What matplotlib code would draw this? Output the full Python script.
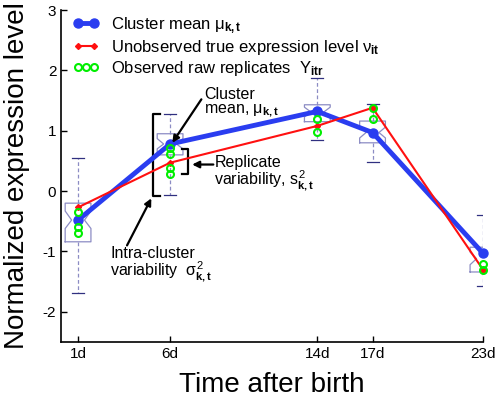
import numpy as np
import matplotlib
matplotlib.use("Agg")
import matplotlib.pyplot as plt
from matplotlib.legend_handler import HandlerLine2D

plt.rcParams["font.family"] = ["Liberation Sans", "DejaVu Sans"]
plt.rcParams["mathtext.fontset"] = "custom"
plt.rcParams["mathtext.rm"] = "Liberation Sans"
plt.rcParams["mathtext.it"] = "Liberation Sans"
plt.rcParams["mathtext.bf"] = "Liberation Sans:bold"

# -----------------------------
# Data
# -----------------------------
days = [1, 6, 14, 17, 23]
day_labels = ["1d", "6d", "14d", "17d", "23d"]

cluster_mean = [-0.48, 0.78, 1.32, 0.97, -1.03]
true_level = [-0.27, 0.47, 1.08, 1.38, -1.30]

rep_days = [1, 1, 1, 6, 6, 6, 6, 14, 14, 17, 17, 23, 23]
rep_values = [-0.34, -0.60, -0.69, 0.71, 0.61, 0.39, 0.29,
              1.19, 0.98, 1.37, 1.19, -1.20, -1.30]

box_q1 = [-0.84, 0.60, 1.15, 0.80, -1.34]
box_q3 = [-0.20, 0.95, 1.43, 1.16, -0.93]
box_med = [-0.48, 0.78, 1.31, 0.97, -1.12]
box_cilo = [-0.62, 0.70, 1.23, 0.88, -1.22]
box_cihi = [-0.33, 0.87, 1.39, 1.06, -1.01]
whisk_lo = [-1.68, -0.07, 0.84, 0.49, -1.57]
whisk_hi = [0.54, 1.28, 1.88, 1.44, -0.39]

# -----------------------------
# Figure
# -----------------------------
fig = plt.figure(figsize=(5.01, 4.0), dpi=100)
ax = fig.add_axes([0.122, 0.145, 0.842, 0.83])

box_col = "#8c8cc4"
stats = []
for i in range(len(days)):
    stats.append(dict(med=box_med[i], q1=box_q1[i], q3=box_q3[i],
                      cilo=box_cilo[i], cihi=box_cihi[i],
                      whislo=whisk_lo[i], whishi=whisk_hi[i], fliers=[]))
ax.bxp(stats, positions=days, widths=1.4, capwidths=0.65, shownotches=True,
       showfliers=False, manage_ticks=False,
       boxprops=dict(color=box_col, linewidth=0.9),
       whiskerprops=dict(color=box_col, linestyle=(0, (3, 2)), linewidth=0.9),
       capprops=dict(color="#303080", linewidth=0.9),
       medianprops=dict(linewidth=0))

red_line, = ax.plot(days, true_level, color="#ff1010", linewidth=1.5, marker="D",
                    markersize=3,
                    label=r"Unobserved true expression level $\nu_{\mathbf{it}}$",
                    zorder=4, clip_on=False)
blue_line, = ax.plot(days, cluster_mean, color="#2a3df0", linewidth=3.5, marker="o",
                     markersize=6.5, label=r"Cluster mean $\mu_{\mathbf{k,t}}$",
                     zorder=3, clip_on=False)
green_pts, = ax.plot(rep_days, rep_values, linestyle="none", marker="o", markersize=5,
                     markerfacecolor="none", markeredgecolor="#00ee00",
                     markeredgewidth=1.5,
                     label=r"Observed raw replicates  $Y_{\mathbf{itr}}$", zorder=5,
                     clip_on=False)

ax.legend([blue_line, red_line, green_pts],
          [blue_line.get_label(), red_line.get_label(), green_pts.get_label()],
          handler_map={blue_line: HandlerLine2D(numpoints=2),
                       red_line: HandlerLine2D(numpoints=2),
                       green_pts: HandlerLine2D(numpoints=3)},
          loc="upper left", bbox_to_anchor=(0.0, 1.02), frameon=False,
          fontsize=12, handlelength=1.6, handletextpad=0.7,
          labelspacing=0.12, borderaxespad=0.3)

# -----------------------------
# Annotations
# -----------------------------
ann = dict(fontsize=11.5)
ax.text(7.85, 1.46, "Cluster\n" + r"mean, $\mu_{\mathbf{k,t}}$",
        ha="left", va="center", linespacing=0.95, **ann)
ax.annotate("", xy=(6.12, 0.80), xytext=(7.7, 1.52),
            arrowprops=dict(arrowstyle="-|>", color="black", lw=1.6,
                            mutation_scale=10, shrinkA=0, shrinkB=0))

ax.text(8.4, 0.28, "Replicate\n" + r"variability, $s^2_{\mathbf{k,t}}$",
        ha="left", va="center", linespacing=0.95, **ann)
ax.annotate("", xy=(7.2, 0.44), xytext=(8.35, 0.44),
            arrowprops=dict(arrowstyle="-|>", color="black", lw=1.6,
                            mutation_scale=10, shrinkA=0, shrinkB=0))
# replicate bracket
ax.plot([6.65, 6.98, 6.98, 6.65], [0.70, 0.70, 0.29, 0.29],
        color="black", linewidth=1.6)

# intra-cluster bracket
ax.plot([5.45, 5.08, 5.08, 5.45], [1.27, 1.27, -0.08, -0.08],
        color="black", linewidth=1.6)
ax.text(2.74, -1.22, "Intra-cluster\n" + r"variability  $\sigma^2_{\mathbf{k,t}}$",
        ha="left", va="center", linespacing=0.95, **ann)
ax.annotate("", xy=(4.98, -0.12), xytext=(3.66, -0.9),
            arrowprops=dict(arrowstyle="-|>", color="black", lw=1.6,
                            mutation_scale=10, shrinkA=0, shrinkB=0))

# -----------------------------
# Axes styling
# -----------------------------
ax.set_xlim(0.08, 23.0)
ax.set_ylim(-2.5, 3)
ax.set_xticks(days)
ax.set_xticklabels(day_labels, fontsize=11)
ax.set_yticks([-2, -1, 0, 1, 2, 3])
ax.set_yticklabels(["-2", "-1", "0", "1", "2", "3"], fontsize=11)
ax.tick_params(direction="in", length=4, width=1)
ax.spines["top"].set_visible(False)
ax.spines["right"].set_visible(False)
ax.spines["left"].set_linewidth(1.2)
ax.spines["bottom"].set_linewidth(1.2)

ax.set_xlabel("Time after birth", fontsize=20, labelpad=8)
ax.set_ylabel("Normalized expression level", fontsize=20, labelpad=9)

fig.savefig("out.png", dpi=100)
